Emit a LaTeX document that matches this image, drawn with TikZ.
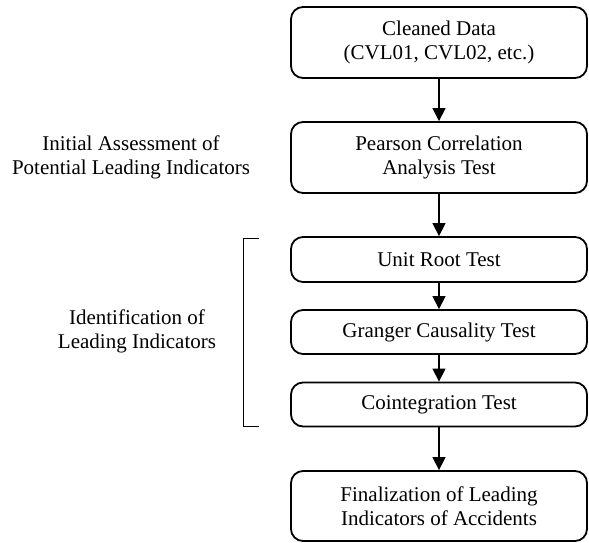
\documentclass[tikz,border=0pt]{standalone}
\usepackage{fontspec}
\setmainfont{Liberation Serif}
\usetikzlibrary{arrows.meta}
\begin{document}
\begin{tikzpicture}[x=1pt,y=-1pt,
  txt/.style={font=\fontsize{21}{24}\selectfont, align=center},
  stepbox/.style={txt, draw, line width=1.8pt, rounded corners=12pt,
    minimum width=296pt, inner sep=0pt},
  flow/.style={line width=1.3pt, -{Triangle[length=13pt,width=13pt]}},
  brk/.style={line width=1pt}]
\useasboundingbox (0,0) rectangle (589,543);
\node[stepbox, minimum height=71pt] (b1) at (439,42.5) {Cleaned Data\\(CVL01, CVL02, etc.)};
\node[stepbox, minimum height=71pt] (b2) at (439,157.5) {Pearson Correlation\\Analysis Test};
\node[stepbox, minimum height=45pt] (b3) at (439,259.5) {Unit Root Test};
\node[stepbox, minimum height=44pt] (b4) at (439,332) {Granger Causality Test};
\node[stepbox, minimum height=44pt] (b5) at (439,404.5) {Cointegration Test};
\node[stepbox, minimum height=70pt] (b6) at (439,506) {Finalization of Leading\\Indicators of Accidents};
\draw[flow] (b1) -- (b2);
\draw[flow] (b2) -- (b3);
\draw[flow] (b3) -- (b4);
\draw[flow] (b4) -- (b5);
\draw[flow] (b5) -- (b6);
\node[txt] (l1) at (131,157) {Initial Assessment of\\Potential Leading Indicators};
\node[txt] (l2) at (137,331) {Identification of\\Leading Indicators};
\coordinate (t1) at (259,238);
\coordinate (t2) at (243,238);
\coordinate (t3) at (243,426);
\coordinate (t4) at (259,426);
\draw[brk] (t1) -- (t2) -- (t3) -- (t4);
\end{tikzpicture}
\end{document}
